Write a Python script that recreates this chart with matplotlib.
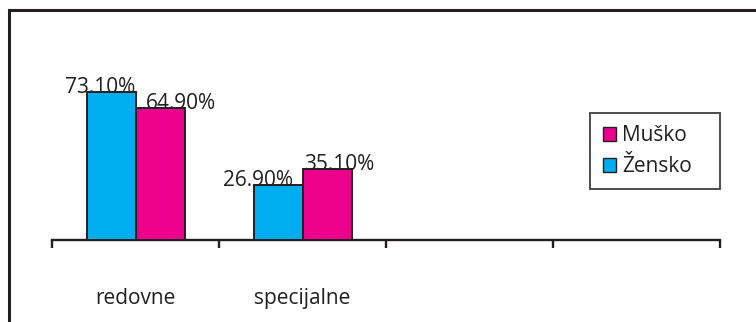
import matplotlib.pyplot as plt
import numpy as np
from matplotlib.lines import Line2D
from matplotlib.patches import Patch

# Share of students by school type and gender
categories = ['redovne', 'specijalne', '', '']
zensko = [73.1, 26.9, np.nan, np.nan]
musko = [64.9, 35.1, np.nan, np.nan]

CYAN = '#00aeef'
MAGENTA = '#ec008c'
INK = '#231f20'
FS = 15

# horizontal nudges (px) for the value labels: (zensko, musko) per group
label_dx = [(-11, 21), (-20, 12)]

plt.rcParams['font.family'] = ['Open Sans', 'DejaVu Sans']

W, H = 756, 322
fig = plt.figure(figsize=(W / 100, H / 100), dpi=100)

# axes: x from 52 to 720 px, baseline at 240 px, 100% at ~37 px
ax = fig.add_axes([52 / W, (H - 240) / H, 668 / W, 203 / H])

x = np.arange(len(categories))
bw = 49 / 167
ax.bar(x - bw / 2, zensko, bw, color=CYAN, edgecolor=INK, linewidth=1.4, zorder=3)
ax.bar(x + bw / 2, musko, bw, color=MAGENTA, edgecolor=INK, linewidth=1.4, zorder=3)

# value labels sitting on the bar tops
px = 72 / 100
for i, (dz, dm) in enumerate(label_dx):
    ax.annotate(f'{zensko[i]:.2f}%', (x[i] - bw / 2, zensko[i]),
                xytext=(dz * px, -1 * px), textcoords='offset points',
                ha='center', va='baseline', fontsize=FS, color=INK, zorder=4)
    ax.annotate(f'{musko[i]:.2f}%', (x[i] + bw / 2, musko[i]),
                xytext=(dm * px, -1 * px), textcoords='offset points',
                ha='center', va='baseline', fontsize=FS, color=INK, zorder=4)

ax.set_xlim(-0.5, len(categories) - 0.5)
ax.set_ylim(0, 100)

for s in ['top', 'right', 'left']:
    ax.spines[s].set_visible(False)
ax.spines['bottom'].set_color(INK)
ax.spines['bottom'].set_linewidth(1.7)
ax.set_yticks([])

# boundary ticks between categories, labels centred under each group
ax.set_xticks(np.arange(len(categories) + 1) - 0.5)
ax.set_xticklabels([])
ax.tick_params(axis='x', which='major', direction='out', length=6, width=1.7, color=INK)
ax.set_xticks(x, minor=True)
ax.set_xticklabels(categories, minor=True, fontsize=FS, color=INK)
ax.tick_params(axis='x', which='minor', length=0, pad=34.5)

handles = [Patch(facecolor=MAGENTA, edgecolor=INK, linewidth=1),
           Patch(facecolor=CYAN, edgecolor=INK, linewidth=1)]
leg = fig.legend(handles, ['Muško', 'Žensko'], loc='upper left',
                 bbox_to_anchor=(590 / W, 1 - 113 / H, 130 / W, 0), mode='expand',
                 fontsize=FS, frameon=True, fancybox=False,
                 handlelength=0.66, handleheight=0.66, handletextpad=0.3,
                 labelspacing=0.45, borderpad=0.6, borderaxespad=0)
leg.get_frame().set_edgecolor(INK)
leg.get_frame().set_linewidth(1.4)
for t in leg.get_texts():
    t.set_color(INK)

# outer frame: left and top edges
fig.add_artist(Line2D([8.5 / W, 8.5 / W], [0, 1 - 10 / H], color=INK, lw=2.2,
                      transform=fig.transFigure, solid_capstyle='projecting'))
fig.add_artist(Line2D([8.5 / W, 1], [1 - 10 / H, 1 - 10 / H], color=INK, lw=2.2,
                      transform=fig.transFigure, solid_capstyle='projecting'))

fig.savefig('out.png', dpi=100, facecolor='white')
